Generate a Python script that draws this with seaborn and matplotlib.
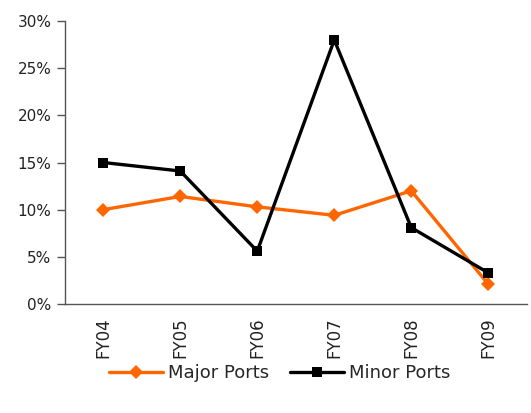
import matplotlib
matplotlib.use("Agg")
import matplotlib.pyplot as plt
import seaborn as sns
import pandas as pd

years = ["FY04", "FY05", "FY06", "FY07", "FY08", "FY09"]
major_ports = [10.0, 11.4, 10.3, 9.4, 12.0, 2.1]
minor_ports = [15.0, 14.1, 5.6, 28.0, 8.1, 3.3]
y_ticks = [0, 5, 10, 15, 20, 25, 30]

df = pd.concat([
    pd.DataFrame({"year": years, "growth": major_ports, "series": "Major Ports"}),
    pd.DataFrame({"year": years, "growth": minor_ports, "series": "Minor Ports"}),
])

sns.set_style("white")
plt.rcParams["font.family"] = ["DejaVu Sans"]

fig = plt.figure(figsize=(5.31, 4.13), dpi=100)
ax = fig.add_axes([0.122, 0.264, 0.870, 0.685])

sns.lineplot(
    data=df, x="year", y="growth", hue="series", style="series",
    palette={"Major Ports": "#FF6600", "Minor Ports": "#000000"},
    markers={"Major Ports": "D", "Minor Ports": "s"},
    dashes=False, linewidth=2.4, markersize=7.5, markeredgewidth=0,
    ax=ax,
)

ax.set_xlim(-0.5, len(years) - 0.5)
ax.set_ylim(0, 30)
ax.set_yticks(y_ticks)
ax.set_yticklabels([f"{t}%" for t in y_ticks], fontsize=11, color="#222222")
ax.set_xticks(range(len(years)))
ax.set_xticklabels(years, rotation=90, fontsize=12, color="#222222")
ax.tick_params(axis="x", length=0, pad=10)
ax.set_xticks([i - 0.5 for i in range(len(years) + 1)], minor=True)
ax.tick_params(axis="x", which="minor", length=6, width=1, color="#555555", direction="out")
ax.tick_params(axis="y", length=6, width=1, color="#555555", direction="out", left=True)
ax.set_xlabel("")
ax.set_ylabel("")

for side in ["top", "right"]:
    ax.spines[side].set_visible(False)
for side in ["left", "bottom"]:
    ax.spines[side].set_color("#555555")
    ax.spines[side].set_linewidth(1)

handles, labels = ax.get_legend_handles_labels()
ax.legend(
    handles, labels, loc="center", bbox_to_anchor=(0.465, -0.245),
    ncol=2, frameon=False, fontsize=13, handlelength=3.0,
    columnspacing=1.2, handletextpad=0.25, borderaxespad=0,
)

fig.savefig("out.png", dpi=100)
